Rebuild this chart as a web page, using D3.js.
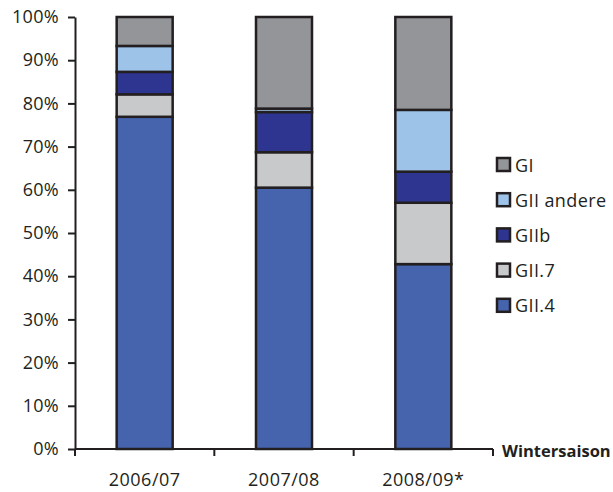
<!DOCTYPE html>
<html lang="de">
<head>
<meta charset="UTF-8">
<script src="https://d3js.org/d3.v7.min.js"></script>
<style>
  body { margin: 0; background: #fff; }
  text { font-family: "Open Sans", "DejaVu Sans", sans-serif; fill: #231f20; }
  .bar { stroke: #231f20; stroke-width: 2.5px; }
  .axis path, .axis line { stroke: #231f20; stroke-width: 2px; }
</style>
</head>
<body>
<svg width="613" height="492"></svg>
<script>
  // seasons and genotype shares (percent)
  var seasons = ["2006/07", "2007/08", "2008/09*"];
  var types = ["GII.4", "GII.7", "GIIb", "GII andere", "GI"];
  var colors = ["#4664ae", "#c8c9cb", "#2e3591", "#9dc3e8", "#949598"];
  var gii4 = [76.9, 60.5, 42.8];
  var gii7 = [5.2, 8.2, 14.2];
  var giib = [5.2, 9.3, 7.2];
  var giiAndere = [6.0, 0.8, 14.3];
  var gi = [6.7, 21.2, 21.5];
  var yTicks = [0, 10, 20, 30, 40, 50, 60, 70, 80, 90, 100];

  var table = seasons.map(function (s, i) {
    return { season: s, "GII.4": gii4[i], "GII.7": gii7[i], "GIIb": giib[i], "GII andere": giiAndere[i], "GI": gi[i] };
  });

  var svg = d3.select("svg");
  var mLeft = 75, mRight = 493, mTop = 17, mBottom = 449;

  var x = d3.scaleBand().domain(seasons).range([mLeft, mRight]).paddingInner(0).paddingOuter(0);
  var y = d3.scaleLinear().domain([0, 100]).range([mBottom, mTop]);
  var color = d3.scaleOrdinal().domain(types).range(colors);

  var stack = d3.stack().keys(types)(table);
  var barW = 56;

  svg.append("g").selectAll("g")
    .data(stack)
    .enter().append("g")
    .attr("fill", function (d) { return color(d.key); })
    .selectAll("rect")
    .data(function (d) { return d; })
    .enter().append("rect")
    .attr("class", "bar")
    .attr("x", function (d) { return x(d.data.season) + x.bandwidth() / 2 - barW / 2; })
    .attr("width", barW)
    .attr("y", function (d) { return y(d[1]); })
    .attr("height", function (d) { return y(d[0]) - y(d[1]); });

  // y axis
  var yAxis = svg.append("g").attr("class", "axis")
    .attr("transform", "translate(" + mLeft + ",0)")
    .call(d3.axisLeft(y).tickValues(yTicks).tickSize(7).tickSizeOuter(0).tickPadding(9)
      .tickFormat(function (d) { return d + "%"; }));
  yAxis.selectAll("text").style("font-size", "18px").style("letter-spacing", "0.3px").attr("fill", "#231f20");

  // x axis: ticks at band edges
  var xAxis = svg.append("g").attr("class", "axis");
  xAxis.append("line").attr("x1", mLeft).attr("x2", mRight).attr("y1", mBottom).attr("y2", mBottom);
  var edges = seasons.map(function (s) { return x(s); }).concat([mRight]);
  xAxis.selectAll(".tk").data(edges).enter().append("line")
    .attr("x1", function (d) { return d; }).attr("x2", function (d) { return d; })
    .attr("y1", mBottom).attr("y2", mBottom + 7);
  svg.selectAll(".xl").data(seasons).enter().append("text")
    .attr("x", function (d) { return x(d) + x.bandwidth() / 2; })
    .attr("y", 486)
    .attr("text-anchor", "middle")
    .style("font-size", "18px")
    .style("letter-spacing", "0.5px")
    .text(function (d) { return d; });

  svg.append("text").attr("x", 502).attr("y", 457)
    .style("font-size", "16.5px").style("font-weight", "bold")
    .text("Wintersaison");

  // legend, top entry is GI
  var legendItems = types.slice().reverse();
  var lg = svg.append("g").selectAll("g").data(legendItems).enter().append("g")
    .attr("transform", function (d, i) { return "translate(497," + (158 + i * 35.2) + ")"; });
  lg.append("rect").attr("width", 13).attr("height", 13)
    .attr("fill", function (d) { return color(d); })
    .attr("stroke", "#231f20").attr("stroke-width", 2.5);
  lg.append("text").attr("x", 18).attr("y", 13.5)
    .style("font-size", "18px")
    .style("letter-spacing", "0.4px")
    .text(function (d) { return d; });
</script>
</body>
</html>
